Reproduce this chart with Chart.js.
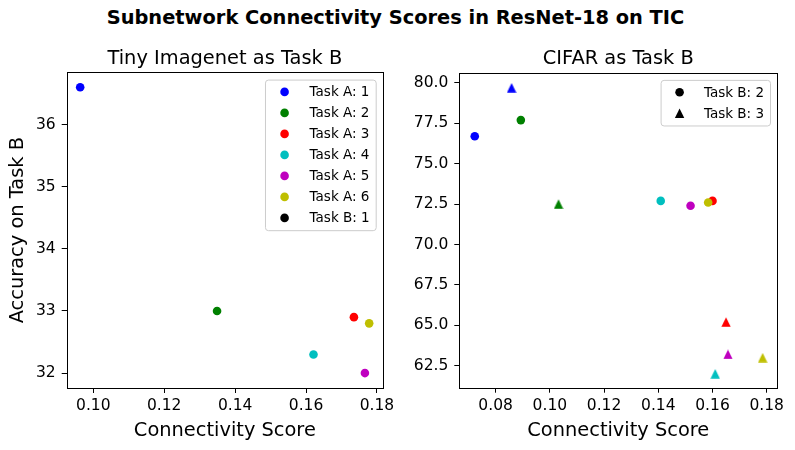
<!DOCTYPE html>
<html>
<head>
<meta charset="utf-8">
<script src="https://cdn.jsdelivr.net/npm/chart.js@4.4.0/dist/chart.umd.min.js"></script>
<style>
  html, body { margin: 0; padding: 0; background: #fff; }
  #wrap { position: relative; width: 795px; height: 450px; overflow: hidden; }
  #suptitle {
    position: absolute; left: -2px; top: 6px; width: 795px;
    text-align: center; font: bold 19.4px "DejaVu Sans"; line-height: 24px; color: #000;
  }
  canvas { position: absolute; top: 0; }
  #tiny { left: 0; }
  #cifar { left: 397px; }
</style>
</head>
<body>
<div id="wrap">
  <div id="suptitle">Subnetwork Connectivity Scores in ResNet-18 on TIC</div>
  <canvas id="tiny" width="397" height="450"></canvas>
  <canvas id="cifar" width="398" height="450"></canvas>
</div>
<script>
  // Task A colours (matplotlib b, g, r, c, m, y)
  var colors = ['#0000ff', '#008000', '#ff0000', '#00bfbf', '#bf00bf', '#bfbf00'];
  var taskALabels = ['Task A: 1', 'Task A: 2', 'Task A: 3', 'Task A: 4', 'Task A: 5', 'Task A: 6'];

  // Tiny Imagenet as Task B (Task B: 1)
  var tinyScore = [0.0963, 0.1349, 0.1735, 0.1621, 0.1766, 0.1778];
  var tinyAcc   = [36.6, 33.0, 32.9, 32.3, 32.0, 32.8];

  // CIFAR as Task B (Task B: 2 circles, Task B: 3 triangles)
  var cifarB2Score = [0.0723, 0.0893, 0.1600, 0.1409, 0.1519, 0.1584];
  var cifarB2Acc   = [76.7, 77.7, 72.7, 72.7, 72.4, 72.6];
  var cifarB3Score = [0.0859, 0.1032, 0.1650, 0.1610, 0.1657, 0.1785];
  var cifarB3Acc   = [79.7, 72.5, 65.2, 62.0, 63.2, 63.0];

  // tick labels
  var tinyXTicks  = [0.10, 0.12, 0.14, 0.16, 0.18];
  var tinyYTicks  = [32, 33, 34, 35, 36];
  var cifarXTicks = [0.08, 0.10, 0.12, 0.14, 0.16, 0.18];
  var cifarYTicks = [62.5, 65.0, 67.5, 70.0, 72.5, 75.0, 77.5, 80.0];

  Chart.defaults.font.family = '"DejaVu Sans"';
  Chart.defaults.color = '#000';
  Chart.defaults.animation = false;

  function toPoints(xs, ys) {
    return xs.map(function (x, i) { return { x: x, y: ys[i] }; });
  }

  function trianglePath(ctx, x, y, h) {
    // matplotlib '^': centred on its bounding box
    ctx.moveTo(x, y - h);
    ctx.lineTo(x - h, y + h);
    ctx.lineTo(x + h, y + h);
    ctx.closePath();
  }

  // small canvas used as point style so triangles sit like matplotlib's
  function triangleImage(color) {
    var c = document.createElement('canvas');
    c.width = 10; c.height = 10;
    var g = c.getContext('2d');
    g.fillStyle = color;
    g.beginPath();
    trianglePath(g, 5, 5, 4.7);
    g.fill();
    return c;
  }

  // black box round the plot area
  var frame = {
    id: 'frame',
    afterDatasetsDraw: function (chart) {
      var a = chart.chartArea, ctx = chart.ctx;
      ctx.save();
      ctx.strokeStyle = '#000';
      ctx.lineWidth = 1;
      ctx.strokeRect(Math.round(a.left) + 0.5, Math.round(a.top) + 0.5,
        Math.round(a.right - a.left), Math.round(a.bottom - a.top));
      ctx.restore();
    }
  };

  function drawMarker(ctx, style, x, y) {
    ctx.beginPath();
    if (style === 'triangle') trianglePath(ctx, x, y, 4.7);
    else ctx.arc(x, y, 4.3, 0, Math.PI * 2);
    ctx.fill();
  }

  // legend drawn inside the upper right corner, like matplotlib
  var insideLegend = {
    id: 'insideLegend',
    afterDraw: function (chart, args, opts) {
      var ctx = chart.ctx, a = chart.chartArea;
      ctx.save();
      ctx.font = '13.5px "DejaVu Sans"';
      var textW = Math.max.apply(null, opts.items.map(function (it) { return ctx.measureText(it.label).width; }));
      var w = opts.textX + textW + 6;
      var h = 24.6 + (opts.items.length - 1) * 21;
      var left = a.right - 7.3 - w, top = a.top + 7.3;
      ctx.beginPath();
      ctx.roundRect(left + 0.5, top + 0.5, w, h, 3);
      ctx.fillStyle = 'rgba(255,255,255,0.8)';
      ctx.fill();
      ctx.strokeStyle = '#cccccc';
      ctx.lineWidth = 1;
      ctx.stroke();
      ctx.textBaseline = 'middle';
      opts.items.forEach(function (it, i) {
        var y = top + 12.3 + i * 21;
        ctx.fillStyle = it.color;
        drawMarker(ctx, it.style, left + opts.markerX, y);
        ctx.fillStyle = '#000';
        ctx.fillText(it.label, left + opts.textX, y + 1);
      });
      ctx.restore();
    }
  };

  function makeAxis(opts) {
    return {
      type: 'linear',
      min: opts.min,
      max: opts.max,
      afterBuildTicks: function (s) {
        s.ticks = opts.ticks.map(function (v) { return { value: v }; });
      },
      afterFit: function (s) {
        if (opts.isX) { s.height = opts.size; s.paddingLeft = 0; s.paddingRight = 0; }
        else { s.width = opts.size; s.paddingTop = 0; s.paddingBottom = 0; }
      },
      ticks: {
        font: { size: 15.5 },
        color: '#000',
        padding: opts.isX ? 4 : 6,
        callback: function (v) { return Number(v).toFixed(opts.digits); }
      },
      grid: { drawOnChartArea: false, drawTicks: true, tickLength: 5, tickColor: '#000', lineWidth: 1 },
      border: { display: false },
      title: {
        display: !!opts.title,
        text: opts.title,
        font: { size: 19.4 },
        color: '#000',
        padding: opts.isX ? { top: 0, bottom: 7.4 } : { top: 6, bottom: 0 }
      }
    };
  }

  var tinyDatasets = taskALabels.map(function (label, i) {
    return {
      label: label,
      data: [{ x: tinyScore[i], y: tinyAcc[i] }],
      pointStyle: 'circle',
      pointRadius: 4.3,
      pointBorderWidth: 0,
      backgroundColor: colors[i]
    };
  });

  new Chart(document.getElementById('tiny'), {
    type: 'scatter',
    data: { datasets: tinyDatasets },
    options: {
      responsive: false,
      layout: { padding: { top: 47, right: 14, left: 0, bottom: 0 } },
      scales: {
        x: makeAxis({ min: 0.0925, max: 0.1817, ticks: tinyXTicks, digits: 2, isX: true, size: 62, title: 'Connectivity Score' }),
        y: makeAxis({ min: 31.76, max: 36.84, ticks: tinyYTicks, digits: 0, isX: false, size: 66.7, title: 'Accuracy on Task B' })
      },
      plugins: {
        legend: { display: false },
        tooltip: { enabled: false },
        title: {
          display: true, text: 'Tiny Imagenet as Task B', fullSize: false,
          font: { size: 19.4, weight: 'normal' }, color: '#000', padding: { top: 0, bottom: 2 }
        },
        insideLegend: {
          markerX: 19.6, textX: 44.6,
          items: taskALabels.map(function (l, i) { return { label: l, color: colors[i], style: 'circle' }; })
            .concat([{ label: 'Task B: 1', color: '#000', style: 'circle' }])
        }
      }
    },
    plugins: [frame, insideLegend]
  });

  new Chart(document.getElementById('cifar'), {
    type: 'scatter',
    data: {
      datasets: [{
        label: 'Task B: 2',
        data: toPoints(cifarB2Score, cifarB2Acc),
        pointStyle: 'circle',
        pointRadius: 4.3,
        pointBorderWidth: 0,
        pointBackgroundColor: colors
      }, {
        label: 'Task B: 3',
        data: toPoints(cifarB3Score, cifarB3Acc),
        pointStyle: colors.map(triangleImage),
        pointRadius: 5,
        pointBorderWidth: 0
      }]
    },
    options: {
      responsive: false,
      layout: { padding: { top: 47.3, right: 17.7, left: 0, bottom: 0 } },
      scales: {
        x: makeAxis({ min: 0.0666, max: 0.1839, ticks: cifarXTicks, digits: 2, isX: true, size: 62.3, title: 'Connectivity Score' }),
        y: makeAxis({ min: 61.14, max: 80.64, ticks: cifarYTicks, digits: 1, isX: false, size: 62.3, title: '' })
      },
      plugins: {
        legend: { display: false },
        tooltip: { enabled: false },
        title: {
          display: true, text: 'CIFAR as Task B', fullSize: false,
          font: { size: 19.4, weight: 'normal' }, color: '#000', padding: { top: 0, bottom: 2 }
        },
        insideLegend: {
          markerX: 19, textX: 43.3,
          items: [
            { label: 'Task B: 2', color: '#000', style: 'circle' },
            { label: 'Task B: 3', color: '#000', style: 'triangle' }
          ]
        }
      }
    },
    plugins: [frame, insideLegend]
  });
</script>
</body>
</html>
